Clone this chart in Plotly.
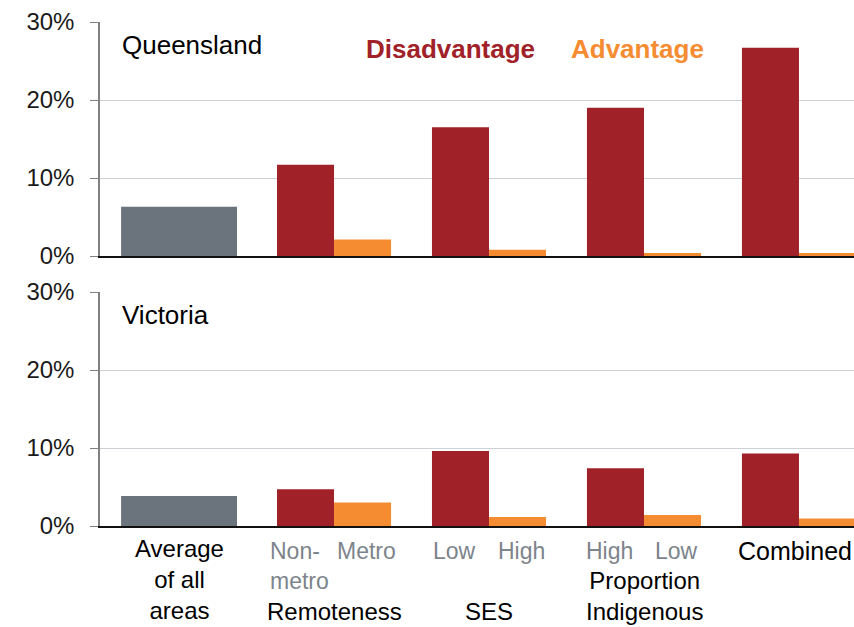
import plotly.graph_objs as go

# data (percent of students)
groups = ["Average of all areas", "Remoteness", "SES", "Proportion Indigenous", "Combined"]
dis_labels = ["Non-<br>metro", "Low", "High", ""]
adv_labels = ["Metro", "High", "Low", ""]
y_ticks = [0, 10, 20, 30]
y_ticktext = ['0%', '10%', '20%', '30%']

qld_avg = 6.3
qld_dis = [11.7, 16.5, 19.0, 26.7]
qld_adv = [2.1, 0.8, 0.4, 0.4]

vic_avg = 3.85
vic_dis = [4.7, 9.6, 7.4, 9.3]
vic_adv = [3.0, 1.15, 1.4, 0.95]

RED = '#A02127'
ORANGE = '#F58C32'
GREY = '#6B737C'
SUBGREY = '#7D848B'
FONT = 'Liberation Sans, Arial, sans-serif'

W, H = 854, 627
bw = 0.368
pos = [1, 2, 3, 4]

fig = go.Figure()

for avg, dis, adv, xa, ya in [(qld_avg, qld_dis, qld_adv, 'x', 'y'),
                              (vic_avg, vic_dis, vic_adv, 'x2', 'y2')]:
    fig.add_trace(go.Bar(x=[0], y=[avg], width=[0.748], marker_color=GREY,
                         marker_line_width=0, xaxis=xa, yaxis=ya))
    fig.add_trace(go.Bar(x=pos, y=dis, width=bw, offset=-bw, marker_color=RED,
                         marker_line_width=0, xaxis=xa, yaxis=ya))
    fig.add_trace(go.Bar(x=pos, y=adv, width=bw, offset=0, marker_color=ORANGE,
                         marker_line_width=0, xaxis=xa, yaxis=ya))


def py(px):
    return 1 - px / H


yax = dict(range=[0, 30], tickvals=y_ticks, ticktext=y_ticktext,
           showgrid=True, gridcolor='#CFCFD6', gridwidth=1,
           showline=True, linecolor='#808080', linewidth=1.5,
           ticks='outside', ticklen=8, tickcolor='#808080',
           ticklabelstandoff=11,
           zeroline=False, automargin=False,
           tickfont=dict(size=24, color='#1a1a1a', family=FONT), fixedrange=True)
xax = dict(range=[-0.51, 4.355], showticklabels=False, showgrid=False,
           showline=True, linecolor='#111111', linewidth=1.5, zeroline=False,
           ticks='', automargin=False, fixedrange=True)

fig.update_layout(
    width=W, height=H,
    margin=dict(l=100, r=0, t=0, b=0, autoexpand=False),
    paper_bgcolor='white', plot_bgcolor='white',
    showlegend=False, barmode='overlay',
    font=dict(family=FONT, color='black'),
    xaxis=dict(xax, anchor='y'),
    xaxis2=dict(xax, anchor='y2'),
    yaxis=dict(yax, domain=[py(256), py(22)], anchor='x'),
    yaxis2=dict(yax, domain=[py(526), py(292)], anchor='x2'),
)

ann = []
ann.append(dict(text='Queensland', x=0.026, y=py(45), xref='paper', yref='paper',
                xanchor='left', yanchor='middle', showarrow=False,
                font=dict(size=26, color='black')))
ann.append(dict(text='Victoria', x=0.026, y=py(315), xref='paper', yref='paper',
                xanchor='left', yanchor='middle', showarrow=False,
                font=dict(size=26, color='black')))
ann.append(dict(text='<b>Disadvantage</b>', x=1.75, y=py(49), xref='x', yref='paper',
                xanchor='center', yanchor='middle', showarrow=False,
                font=dict(size=26, color=RED)))
ann.append(dict(text='<b>Advantage</b>', x=2.96, y=py(49), xref='x', yref='paper',
                xanchor='center', yanchor='middle', showarrow=False,
                font=dict(size=26, color=ORANGE)))

# sub-labels under bars
for i, p in enumerate(pos):
    if dis_labels[i]:
        ann.append(dict(text=dis_labels[i], x=p - 0.22, y=py(536), xref='x2', yref='paper',
                        xanchor='center', yanchor='top', showarrow=False, align='left',
                        font=dict(size=23, color=SUBGREY)))
    if adv_labels[i]:
        ann.append(dict(text=adv_labels[i], x=p + 0.21, y=py(536), xref='x2', yref='paper',
                        xanchor='center', yanchor='top', showarrow=False,
                        font=dict(size=23, color=SUBGREY)))

# group labels
grp_txt = ['Average<br>of all<br>areas', 'Remoteness', 'SES', 'Proportion<br>Indigenous']
grp_y = [579, 611, 611, 596]
for i, t in enumerate(grp_txt):
    ann.append(dict(text=t, x=i, y=py(grp_y[i]), xref='x2', yref='paper',
                    xanchor='center', yanchor='middle', showarrow=False,
                    font=dict(size=24, color='black')))
# last group label sits against the right edge
ann.append(dict(text=groups[4], x=1.0, y=py(551), xref='paper', yref='paper',
                xanchor='right', yanchor='middle', showarrow=False,
                font=dict(size=25, color='black')))

fig.update_layout(annotations=ann)

# page body has a default 8px margin; drop it so the figure fills the window
fig.write_html("out.html", config={'displayModeBar': False},
               post_script="document.body.style.margin='0px';")
